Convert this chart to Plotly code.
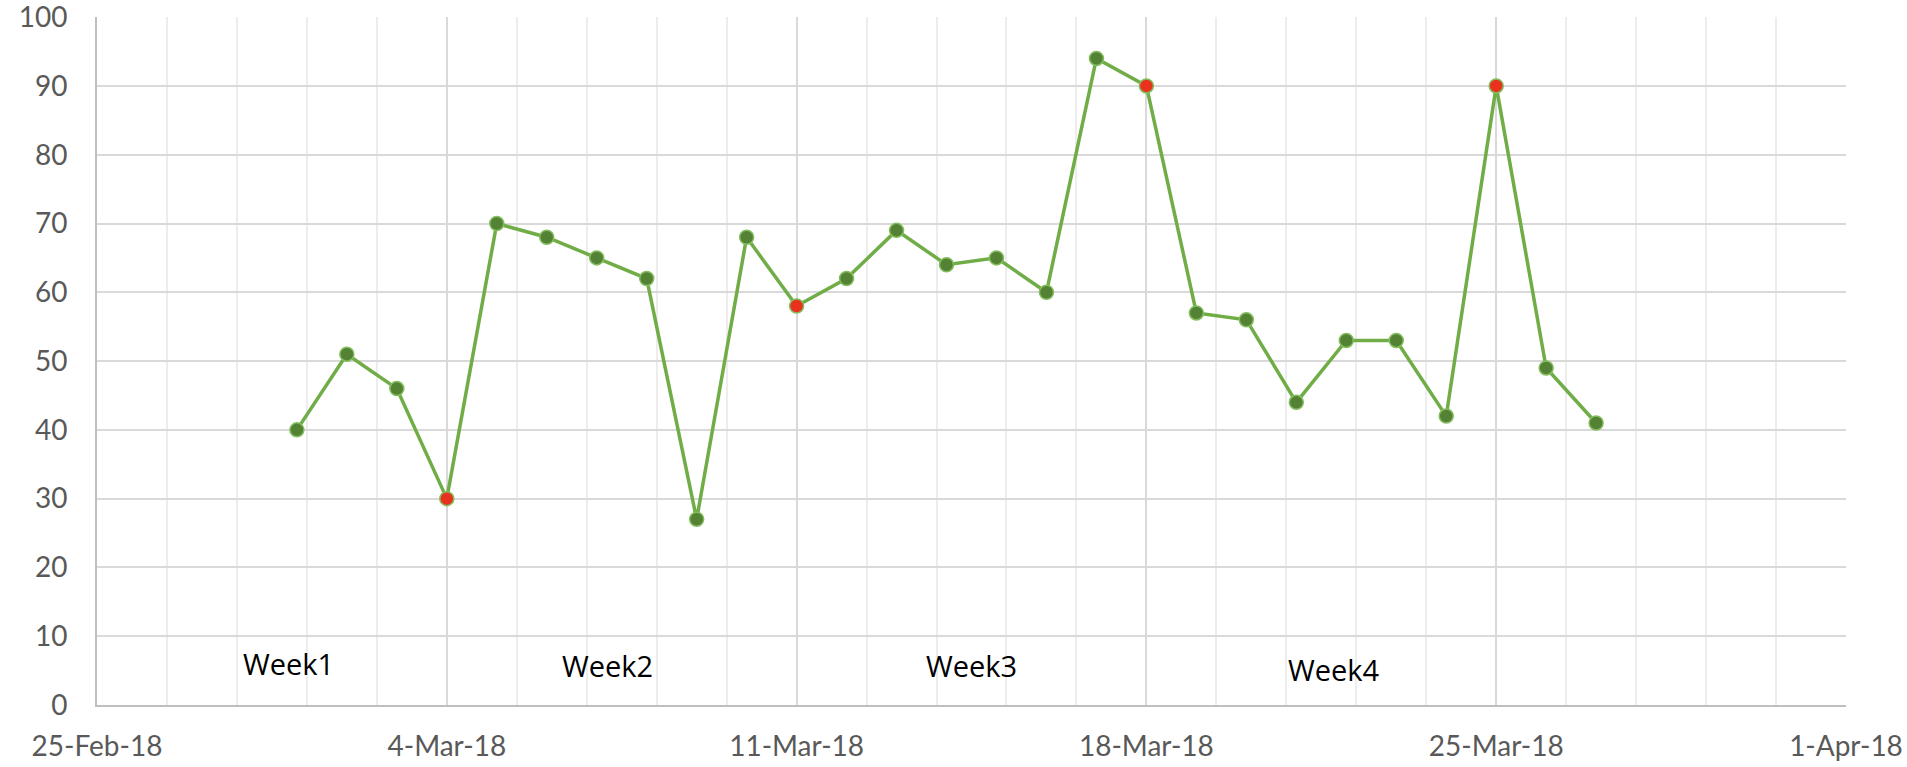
import plotly.graph_objects as go

dates = ["2018-03-01", "2018-03-02", "2018-03-03", "2018-03-04", "2018-03-05", "2018-03-06",
         "2018-03-07", "2018-03-08", "2018-03-09", "2018-03-10", "2018-03-11", "2018-03-12",
         "2018-03-13", "2018-03-14", "2018-03-15", "2018-03-16", "2018-03-17", "2018-03-18",
         "2018-03-19", "2018-03-20", "2018-03-21", "2018-03-22", "2018-03-23", "2018-03-24",
         "2018-03-25", "2018-03-26", "2018-03-27"]
values = [40, 51, 46, 30, 70, 68, 65, 62, 27, 68, 58, 62, 69, 64, 65, 60, 94, 90,
          57, 56, 44, 53, 53, 42, 90, 49, 41]
highlight_dates = ["2018-03-04", "2018-03-11", "2018-03-18", "2018-03-25"]

week_labels = ["Week1", "Week2", "Week3", "Week4"]
week_label_x = ["2018-02-28 20:00", "2018-03-07 05:00", "2018-03-14 12:00", "2018-03-21 18:00"]
week_label_y = [6.1, 5.7, 5.7, 5.2]

x_range = ["2018-02-25", "2018-04-01"]
y_ticks = list(range(0, 101, 10))

DAY = 86400000
marker_colors = ["#E8321E" if d in highlight_dates else "#548235" for d in dates]

fig = go.Figure()
fig.add_trace(go.Scatter(
    x=dates, y=values, mode="lines+markers",
    line=dict(color="#70AD47", width=3.5),
    marker=dict(size=14, color=marker_colors, line=dict(color="#84BD5E", width=1.5)),
    showlegend=False, hoverinfo="x+y", cliponaxis=False,
))

for txt, xx, yy in zip(week_labels, week_label_x, week_label_y):
    fig.add_annotation(x=xx, y=yy, text=txt, showarrow=False,
                       font=dict(family="Open Sans", size=29, color="#000000"))

tick_font = dict(family="Lato", size=28, color="#595959")

fig.update_layout(
    width=1907, height=767,
    margin=dict(l=97, r=61, t=17, b=62, autoexpand=False),
    paper_bgcolor="white", plot_bgcolor="white",
    xaxis=dict(
        type="date", range=x_range, automargin=False,
        tick0="2018-02-25", dtick=7 * DAY, tickformat="%-d-%b-%y",
        showgrid=True, gridcolor="#D9D9D9", gridwidth=1.5,
        showline=True, linecolor="#BFBFBF", linewidth=2,
        ticks="", tickfont=tick_font, ticklabelstandoff=15,
        ticklabeloverflow="allow",
        zeroline=False,
        minor=dict(tick0="2018-02-25", dtick=1.4 * DAY, showgrid=True,
                   gridcolor="#EDEDED", gridwidth=1.5),
    ),
    yaxis=dict(
        range=[0, 100.02], tickvals=y_ticks, automargin=False,
        showgrid=True, gridcolor="#D9D9D9", gridwidth=1.5,
        showline=True, linecolor="#BFBFBF", linewidth=2,
        ticks="", tickfont=tick_font, ticklabelstandoff=22,
        ticklabeloverflow="allow",
        zeroline=False,
    ),
)

fig.write_html("out.html", config={"displayModeBar": False},
               post_script="document.body.style.margin='0';document.body.style.overflow='hidden';")
